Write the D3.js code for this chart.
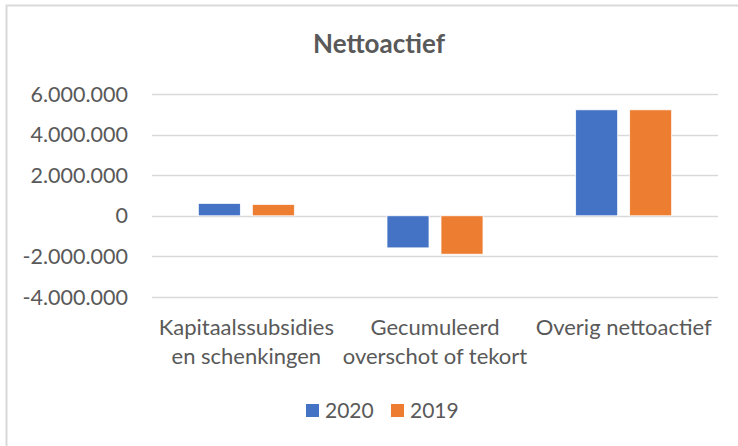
<!DOCTYPE html>
<html>
<head>
<meta charset="utf-8">
<script src="https://cdn.jsdelivr.net/npm/d3@7"></script>
<style>
  body { margin: 0; background: #fff; }
  svg text { font-family: Lato, "Open Sans", sans-serif; fill: #595959; }
</style>
</head>
<body>
<svg id="chart" width="738" height="446"></svg>
<script>
// Data
const categories = [
    ["Kapitaalssubsidies", "en schenkingen"],
    ["Gecumuleerd", "overschot of tekort"],
    ["Overig nettoactief"]
];
const seriesNames = ["2020", "2019"];
const values2020 = [612000, -1580000, 5220000];
const values2019 = [563000, -1890000, 5220000];
const yTicks = [-4000000, -2000000, 0, 2000000, 4000000, 6000000];
const colors = ["#4472C4", "#ED7D31"];

const svg = d3.select("#chart");

// Chart frame (right/bottom are cropped in the reference)
svg.append("path")
    .attr("d", "M6.5,446 V5.5 H738")
    .attr("fill", "none")
    .attr("stroke", "#D9D9D9")
    .attr("stroke-width", 2);

// Title
svg.append("text")
    .attr("x", 379)
    .attr("y", 53)
    .attr("text-anchor", "middle")
    .style("font-size", "26px")
    .style("font-weight", "bold")
    .text("Nettoactief");

// Scales
const margin = { left: 152, right: 718, top: 94, bottom: 297 };
const x = d3.scaleBand()
    .domain(d3.range(categories.length))
    .range([margin.left, margin.right]);
const y = d3.scaleLinear()
    .domain([-4000000, 6000000])
    .range([margin.bottom, margin.top]);
const barW = 42, barGap = 12;

// Gridlines
svg.append("g").selectAll("line")
    .data(yTicks)
    .join("line")
    .attr("x1", margin.left)
    .attr("x2", margin.right)
    .attr("y1", d => Math.round(y(d)) + 0.5)
    .attr("y2", d => Math.round(y(d)) + 0.5)
    .attr("stroke", "#D9D9D9")
    .attr("stroke-width", 1.5);

// Y labels
const fmt = d => d3.format(",")(d).replace(/,/g, ".").replace("−", "-");
svg.append("g").selectAll("text")
    .data(yTicks)
    .join("text")
    .attr("x", 128)
    .attr("y", d => y(d))
    .attr("dy", "0.35em")
    .attr("text-anchor", "end")
    .style("font-size", "21.5px")
    .text(fmt);

// Bars
const series = [values2020, values2019];
series.forEach((vals, s) => {
    svg.append("g").selectAll("rect")
        .data(vals)
        .join("rect")
        .attr("x", (d, i) => x(i) + x.bandwidth() / 2 - barW - barGap / 2 + s * (barW + barGap))
        .attr("y", d => y(Math.max(0, d)))
        .attr("width", barW)
        .attr("height", d => Math.abs(y(d) - y(0)))
        .attr("fill", colors[s])
        .attr("stroke", "#fff")
        .attr("stroke-width", 0.75);
});

// Category labels
const cat = svg.append("g").selectAll("text")
    .data(categories)
    .join("text")
    .attr("x", (d, i) => x(i) + x.bandwidth() / 2)
    .attr("y", 335)
    .attr("text-anchor", "middle")
    .style("font-size", "22px");
cat.selectAll("tspan")
    .data(d => d)
    .join("tspan")
    .attr("x", function () { return d3.select(this.parentNode).attr("x"); })
    .attr("dy", (d, i) => i === 0 ? 0 : 29)
    .text(d => d);

// Legend
const legend = svg.append("g");
const legendX = [306, 391];
seriesNames.forEach((name, i) => {
    legend.append("rect")
        .attr("x", legendX[i])
        .attr("y", 404)
        .attr("width", 13)
        .attr("height", 13)
        .attr("fill", colors[i]);
    legend.append("text")
        .attr("x", legendX[i] + 19)
        .attr("y", 411)
        .attr("dy", "0.35em")
        .style("font-size", "21px")
        .text(name);
});
</script>
</body>
</html>
